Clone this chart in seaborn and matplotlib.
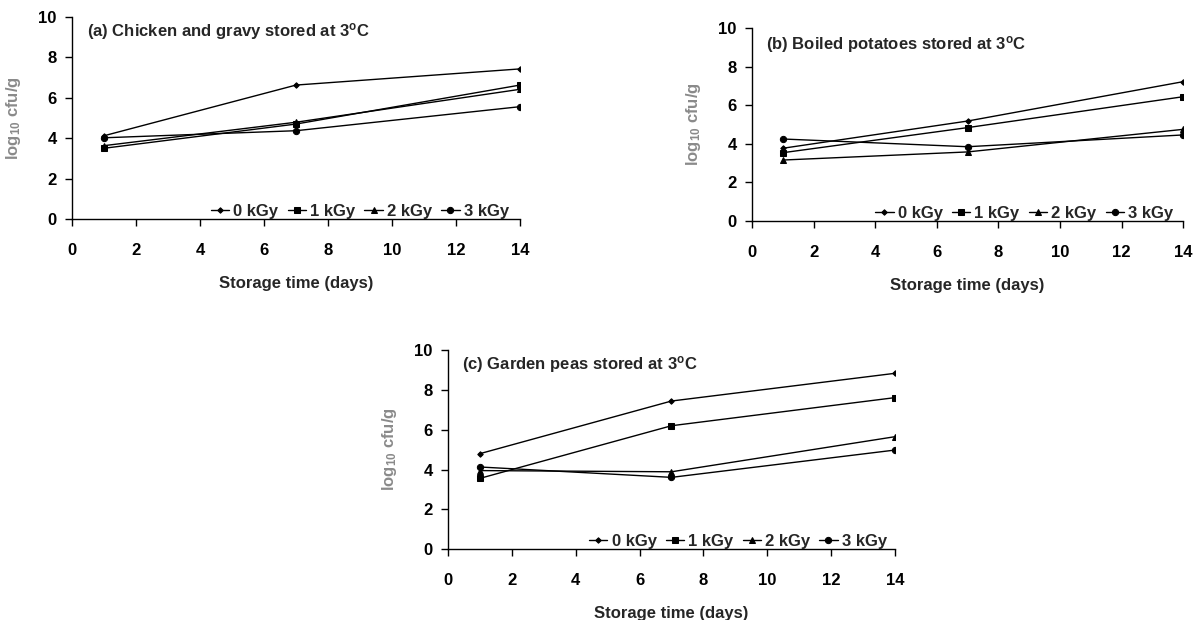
import numpy as np
import pandas as pd
import matplotlib
matplotlib.use("Agg")
import matplotlib.pyplot as plt
import seaborn as sns

# ---- data ----
days = [1, 7, 14]
doses = ["0 kGy", "1 kGy", "2 kGy", "3 kGy"]

chicken_0 = [4.12, 6.63, 7.43]
chicken_1 = [3.50, 4.70, 6.63]
chicken_2 = [3.63, 4.79, 6.42]
chicken_3 = [4.02, 4.37, 5.56]

potato_0 = [3.77, 5.18, 7.22]
potato_1 = [3.54, 4.84, 6.44]
potato_2 = [3.16, 3.58, 4.75]
potato_3 = [4.25, 3.85, 4.46]

peas_0 = [4.80, 7.44, 8.83]
peas_1 = [3.56, 6.20, 7.61]
peas_2 = [3.95, 3.89, 5.65]
peas_3 = [4.13, 3.61, 4.98]

titles = ["(a) Chicken and gravy stored at 3$^{\\mathrm{o}}$C",
          "(b) Boiled potatoes stored at 3$^{\\mathrm{o}}$C",
          "(c) Garden peas stored at 3$^{\\mathrm{o}}$C"]
xlabel = "Storage time (days)"
ylabel = "log$_{10}$ cfu/g"
xticks = [0, 2, 4, 6, 8, 10, 12, 14]
yticks = [0, 2, 4, 6, 8, 10]


def long_frame(series):
    rows = []
    for dose, vals in zip(doses, series):
        for d, v in zip(days, vals):
            rows.append({"day": d, "count": v, "dose": dose})
    return pd.DataFrame(rows)


panels = [
    long_frame([chicken_0, chicken_1, chicken_2, chicken_3]),
    long_frame([potato_0, potato_1, potato_2, potato_3]),
    long_frame([peas_0, peas_1, peas_2, peas_3]),
]

sns.set_style("white")
plt.rcParams["font.family"] = ["Liberation Sans", "DejaVu Sans"]
plt.rcParams["mathtext.fontset"] = "custom"
plt.rcParams["mathtext.rm"] = "Liberation Sans:bold"
plt.rcParams["mathtext.it"] = "Liberation Sans:bold"
plt.rcParams["mathtext.bf"] = "Liberation Sans:bold"

FS = 12

fig = plt.figure(figsize=(11.96, 6.2), dpi=100)
rects = [
    [0.0602, 0.6468, 0.3746, 0.3258],
    [0.6288, 0.6435, 0.3604, 0.3113],
    [0.3746, 0.1140, 0.3737, 0.3215],
]
title_pos = [(0.033, 0.926), (0.032, 0.917), (0.031, 0.925)]
legend_right = [0.975, 0.977, 0.982]

markers = {"0 kGy": "D", "1 kGy": "s", "2 kGy": "^", "3 kGy": "o"}
msizes = {"0 kGy": 2.8, "1 kGy": 4.2, "2 kGy": 4.5, "3 kGy": 4.5}

for i, (df, rect) in enumerate(zip(panels, rects)):
    ax = fig.add_axes(rect)
    for dose in doses:
        sub = df[df["dose"] == dose]
        sns.lineplot(data=sub, x="day", y="count", ax=ax, color="black",
                     marker=markers[dose], markersize=msizes[dose],
                     markeredgecolor="black", linewidth=1.0, label=dose)
    ax.set_xlim(0, 14)
    ax.set_ylim(0, 10)
    ax.set_xticks(xticks)
    ax.set_yticks(yticks)
    for s in ["top", "right"]:
        ax.spines[s].set_visible(False)
    for s in ["left", "bottom"]:
        ax.spines[s].set_color("black")
        ax.spines[s].set_linewidth(1.0)
    ax.tick_params(axis="x", direction="out", length=5, width=1, pad=12,
                   labelsize=FS, colors="black", bottom=True)
    ax.tick_params(axis="y", direction="out", length=5, width=1, pad=6,
                   labelsize=FS, colors="black", left=True)
    for lab in ax.get_xticklabels() + ax.get_yticklabels():
        lab.set_fontweight("bold")
    ax.set_xlabel(xlabel, fontsize=FS, fontweight="bold", labelpad=13)
    ax.set_ylabel(ylabel, fontsize=FS, fontweight="bold", color="#8a8a8a",
                  labelpad=11)
    ax.text(title_pos[i][0], title_pos[i][1], titles[i], transform=ax.transAxes,
            fontsize=FS, fontweight="bold", ha="left", va="center")
    leg = ax.legend(loc="lower right", bbox_to_anchor=(legend_right[i], 0.0),
                    ncol=4, frameon=False, handlelength=1.1,
                    handletextpad=0.25, columnspacing=0.55, borderpad=0.0,
                    borderaxespad=0.0, prop={"weight": "bold", "size": FS})
    for h in leg.legend_handles:
        h.set_linewidth(1.0)

fig.savefig("out.png", dpi=100)
